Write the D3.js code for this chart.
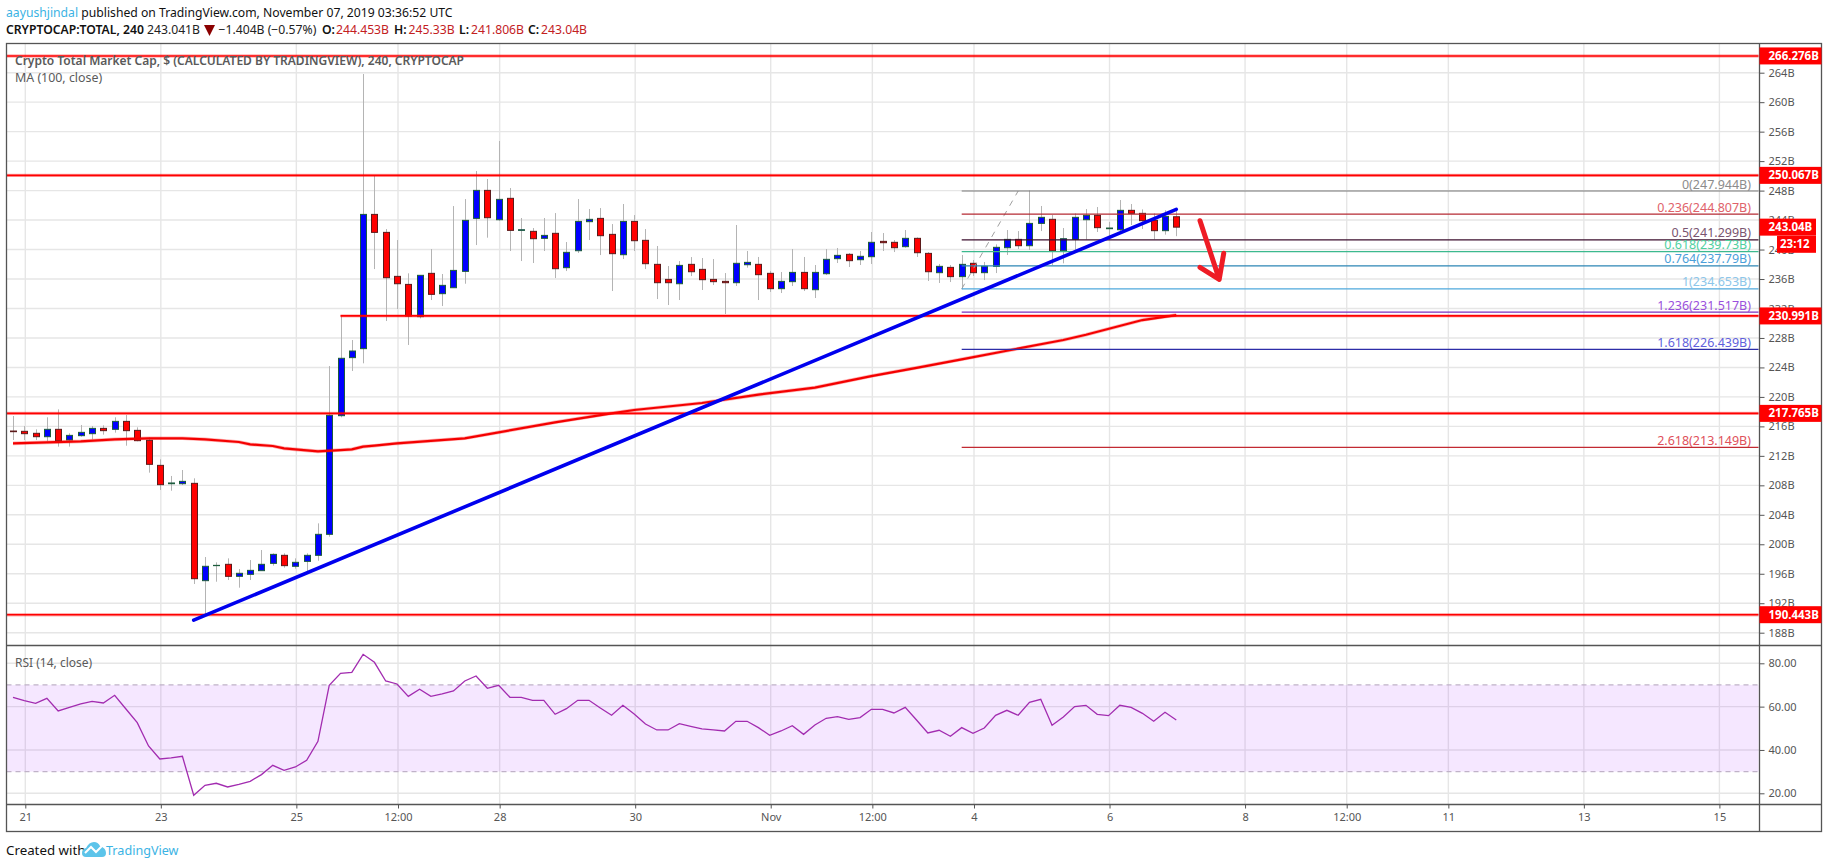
<!DOCTYPE html>
<html>
  <head>
    <meta charset="utf-8" />
    <title>Crypto Total Market Cap</title>
    <script src="https://d3js.org/d3.v7.min.js"></script>
    <style>
      html, body { margin: 0; background: #fff; }
      svg { display: block; }
      text { font-family: "Noto Sans", sans-serif; }
    </style>
  </head>
  <body>
    <svg id="chart" width="1828" height="868"></svg>
    <script>
      // 4h candles, first one is Oct 20 2019 20:00 UTC (values in billions)
      var opens = [215.37,215.33,215.06,214.60,215.60,214.15,214.74,215.01,215.73,215.60,
        216.68,215.46,214.11,210.71,208.22,208.22,208.27,195.06,197.10,197.28,
        195.65,195.92,196.42,197.41,198.50,197.01,197.68,198.50,201.35,217.45,
        225.33,226.55,244.77,242.33,236.36,235.27,230.89,236.77,234.01,234.82,
        237.04,244.23,248.03,244.05,246.95,242.60,242.47,241.52,242.20,237.54,
        239.84,243.78,244.23,242.06,239.30,243.82,241.25,237.99,235.95,235.36,
        237.99,237.31,235.95,235.68,235.50,237.94,237.99,236.77,234.69,235.64,
        236.90,234.55,236.72,238.76,239.35,238.62,239.03,241.11,240.98,240.39,
        241.52,239.48,236.86,237.58,236.32,238.13,236.86,237.72,240.25,241.38,
        240.52,243.55,244.10,239.84,241.38,244.05,244.64,242.83,242.69,245.32,
        244.91,243.96,242.56,244.45];
      var closes = [215.28,215.01,214.60,215.60,214.06,214.78,215.19,215.73,215.42,216.68,
        215.42,214.06,210.85,208.09,208.32,208.54,195.33,197.01,197.14,195.65,
        196.06,196.46,197.28,198.63,197.10,197.55,198.50,201.35,217.50,225.24,
        226.23,244.77,242.33,236.18,235.36,230.98,236.50,233.92,235.14,237.17,
        243.96,248.03,244.32,246.81,242.60,242.69,241.47,241.92,237.40,239.62,
        243.82,244.10,241.88,239.44,243.82,241.20,238.08,235.50,235.50,237.85,
        236.99,235.91,235.64,235.50,238.13,238.26,236.59,234.69,235.68,236.90,
        234.69,236.90,238.67,239.21,238.49,239.08,240.98,240.93,240.25,241.52,
        239.57,236.99,237.72,236.32,237.99,236.86,237.72,240.30,241.38,240.52,
        243.55,244.37,239.84,241.47,244.37,244.64,242.97,242.92,245.32,244.91,
        243.92,242.56,244.50,243.04];
      var highs = [217.41,216.05,215.60,217.23,218.31,215.06,216.19,216.05,216.14,217.23,
        217.54,215.87,214.51,211.53,209.27,210.08,208.95,198.27,197.55,198.09,
        196.64,197.86,199.22,198.77,198.77,198.09,198.77,202.84,224.19,230.98,
        227.72,263.82,250.11,242.78,241.29,236.77,236.50,240.07,236.68,245.90,
        246.85,250.66,249.57,254.73,248.35,244.28,242.92,244.28,244.95,241.02,
        246.85,245.50,245.63,243.46,246.18,244.68,242.78,240.48,237.76,238.44,
        238.98,238.85,238.71,236.81,243.33,239.80,238.99,237.09,236.95,240.07,
        238.99,237.90,240.07,240.21,239.53,239.80,242.38,242.24,241.29,242.65,
        241.65,239.66,238.04,237.90,239.26,238.58,238.31,240.70,242.65,242.51,
        248.03,245.91,244.69,242.92,244.91,245.50,245.77,243.74,246.72,246.18,
        245.45,244.91,245.32,245.33];
      var lows = [214.15,214.15,214.15,213.97,213.25,213.25,214.60,214.24,214.88,215.15,
        213.38,213.97,209.72,207.37,207.27,208.04,194.61,190.40,194.92,195.15,
        194.11,195.15,196.42,197.10,196.82,196.69,196.28,197.77,201.03,217.23,
        223.52,224.56,237.35,230.30,231.93,227.05,230.66,233.15,232.33,234.82,
        235.36,240.61,241.61,243.87,239.80,238.44,238.17,239.80,236.13,237.08,
        239.53,241.29,239.25,234.37,238.71,239.80,237.35,233.28,232.47,233.15,
        236.40,234.51,235.18,231.25,235.05,237.54,233.15,234.24,234.10,235.05,
        234.37,233.42,236.54,238.17,237.63,237.90,238.04,239.80,239.66,240.25,
        238.99,235.73,235.46,235.59,234.60,236.41,235.86,236.81,239.26,240.07,
        239.94,242.51,237.90,238.13,239.94,241.38,242.38,241.29,242.51,243.33,
        242.79,241.38,242.02,241.81];

      // MA(100), read at the candle numbers in maIndex
      var maIndex = [0,3,6,9,12,15,17,20,21,23,24,27,29,30,31,32,34,40,48,53,55,61,66,71,76,80,84,88,93,95,100,103];
      var maValues = [213.70,213.83,213.97,214.24,214.38,214.38,214.24,213.88,213.56,213.34,213.02,212.61,212.79,
        212.88,213.25,213.38,213.70,214.38,216.55,217.77,218.22,219.17,220.31,221.26,222.83,223.95,225.10,226.27,
        227.72,228.44,230.43,231.11];

      // RSI(14), one per candle
      var rsiValues = [64.30,62.77,61.53,63.84,58.00,59.69,61.23,62.46,61.69,65.23,
        58.92,52.61,41.85,35.85,36.31,37.08,19.08,23.70,24.62,22.93,
        24.16,25.55,28.62,32.93,30.62,32.16,35.23,44.00,69.84,75.38,
        75.84,84.14,80.45,71.84,70.45,64.76,68.00,64.76,65.84,67.22,
        71.84,74.15,68.46,69.84,64.30,64.30,62.92,62.92,56.46,59.07,
        62.92,62.92,59.38,56.00,60.61,56.61,52.00,49.23,49.23,52.15,
        50.92,49.69,49.23,48.77,53.23,53.23,50.31,46.77,48.77,51.23,
        47.23,51.54,54.61,55.38,54.15,54.92,58.77,58.77,57.07,59.69,
        53.84,47.85,49.08,46.31,50.31,47.69,50.15,56.00,58.30,56.00,
        62.00,63.38,51.38,55.23,60.00,60.61,56.46,55.84,60.61,59.69,
        56.92,53.23,57.38,53.84];

      var priceTicks = [188,192,196,200,204,208,212,216,220,224,228,232,236,240,244,248,252,256,260,264];
      var rsiTicks = [20,40,60,80];
      var rsiBand = [30,70];
      var timeTicks = ["2019-10-21","2019-10-23","2019-10-25","2019-10-26T12:00","2019-10-28","2019-10-30",
        "2019-11-01","2019-11-02T12:00","2019-11-04","2019-11-06","2019-11-08","2019-11-09T12:00",
        "2019-11-11","2019-11-13","2019-11-15"];
      var timeLabels = ["21","23","25","12:00","28","30","Nov","12:00","4","6","8","12:00","11","13","15"];

      // horizontal levels drawn by the author, the 231B one starts later
      var levels = [266.276,250.067,230.991,217.765,190.443];
      var levelLabels = ["266.276B","250.067B","230.991B","217.765B","190.443B"];
      var levelStart = [null,null,29,null,null];

      var fibValues = [247.944,244.807,241.299,239.73,237.79,234.653,231.517,226.439,213.149];
      var fibLabels = ["0(247.944B)","0.236(244.807B)","0.5(241.299B)","0.618(239.73B)","0.764(237.79B)",
        "1(234.653B)","1.236(231.517B)","1.618(226.439B)","2.618(213.149B)"];
      var fibLine = ["#787878","#b52a33","#3c0f2e","#3cb98e","#2c86b5","#4fa9dc","#7a2fc0","#2d2da8","#c22a32"];
      var fibText = ["#8c8c8c","#e0626a","#7a5570","#4fd09f","#4a9fda","#8cc6ea","#9a50dc","#5f5fdc","#e0505a"];
      var fibStart = 84;

      var trendIndex = [16,103];
      var trendValues = [189.7,245.45];
      var swingIndex = [84,89];
      var swingValues = [234.653,247.944];
      var arrowIndex = [105.1,106.8,105.1,106.8,107.2];
      var arrowValues = [243.91,235.96,237.59,235.96,239.49];

      var headerQuote = [["O:","244.453B",322,336],["H:","245.33B",394,408.6],["L:","241.806B",459,471],["C:","243.04B",528,541]];

      var left = 6.5, paneRight = 1759.5, outerRight = 1821.5;
      var mainTop = 43.5, mainBottom = 645.5, rsiBottom = 804.5, timeBottom = 831.5;
      var FOUR_H = 4 * 3600 * 1000;
      var firstCandle = Date.UTC(2019, 9, 20, 20);

      var svg = d3.select("#chart");

      var x = d3.scaleUtc()
        .domain([Date.UTC(2019, 9, 21), Date.UTC(2019, 10, 15)])
        .range([25.3, 1719.4]);
      var y = d3.scaleLinear().domain([188, 264]).range([632.7, 72.7]);
      var yRsi = d3.scaleLinear().domain([20, 80]).range([793.3, 663.3]);

      // candles sit about a pixel left of the time grid
      function cx(i) {
        return x(new Date(firstCandle + i * FOUR_H)) - 1;
      }
      function tickDate(s) {
        return new Date(s.length > 10 ? s + "Z" : s + "T00:00Z");
      }

      var candles = d3.range(opens.length).map(function (i) {
        return { i: i, o: opens[i], h: highs[i], l: lows[i], c: closes[i] };
      });

      // grid
      var grid = svg.append("g").attr("stroke", "#e6e6e6").attr("stroke-width", 1.4);
      grid.selectAll("line.h")
        .data(priceTicks)
        .enter()
        .append("line")
        .attr("x1", left)
        .attr("x2", paneRight)
        .attr("y1", function (d) { return y(d); })
        .attr("y2", function (d) { return y(d); });
      grid.selectAll("line.r")
        .data(rsiTicks)
        .enter()
        .append("line")
        .attr("x1", left)
        .attr("x2", paneRight)
        .attr("y1", function (d) { return yRsi(d); })
        .attr("y2", function (d) { return yRsi(d); });
      grid.selectAll("line.v")
        .data(timeTicks)
        .enter()
        .append("line")
        .attr("x1", function (d) { return x(tickDate(d)); })
        .attr("x2", function (d) { return x(tickDate(d)); })
        .attr("y1", mainTop)
        .attr("y2", rsiBottom);

      // candlesticks
      var candle = svg.append("g");
      candle.selectAll("line")
        .data(candles)
        .enter()
        .append("line")
        .attr("x1", function (d) { return Math.round(cx(d.i)) + 0.5; })
        .attr("x2", function (d) { return Math.round(cx(d.i)) + 0.5; })
        .attr("y1", function (d) { return y(d.h); })
        .attr("y2", function (d) { return y(d.l); })
        .attr("stroke", "#b4b4b4")
        .attr("stroke-width", 1);
      candle.selectAll("rect")
        .data(candles)
        .enter()
        .append("rect")
        .attr("x", function (d) { return Math.round(cx(d.i)) - 2.5; })
        .attr("width", 6)
        .attr("y", function (d) { return y(Math.max(d.o, d.c)); })
        .attr("height", function (d) { return Math.abs(y(d.o) - y(d.c)); })
        .attr("fill", function (d) { return d.c >= d.o ? "#0000ff" : "#ff0000"; })
        .attr("stroke", function (d) { return d.c >= d.o ? "#1c5c3c" : "#5c1a1a"; })
        .attr("stroke-width", 1);

      // moving average
      var maLine = d3.line()
        .x(function (d) { return cx(d); })
        .y(function (d, i) { return y(maValues[i]); });
      svg.append("path")
        .attr("d", maLine(maIndex))
        .attr("fill", "none")
        .attr("stroke", "#ff0000")
        .attr("stroke-opacity", 0.3)
        .attr("stroke-width", 3.6);
      svg.append("path")
        .attr("d", maLine(maIndex))
        .attr("fill", "none")
        .attr("stroke", "#f40000")
        .attr("stroke-width", 2.2);

      // red levels
      var levelG = svg.append("g");
      levels.forEach(function (v, i) {
        var start = levelStart[i] === null ? left : cx(levelStart[i]);
        levelG.append("line")
          .attr("x1", start).attr("x2", paneRight - 1)
          .attr("y1", y(v)).attr("y2", y(v))
          .attr("stroke", "#ff0000").attr("stroke-opacity", 0.3).attr("stroke-width", 3.4);
        levelG.append("line")
          .attr("x1", start).attr("x2", paneRight - 1)
          .attr("y1", y(v)).attr("y2", y(v))
          .attr("stroke", "#ff0000").attr("stroke-width", 1.6);
      });

      // fib retracement
      var fib = svg.append("g");
      fib.append("path")
        .attr("d", d3.line()
          .x(function (d) { return cx(d); })
          .y(function (d, i) { return y(swingValues[i]); })(swingIndex))
        .attr("fill", "none")
        .attr("stroke", "#a0a0a0")
        .attr("stroke-dasharray", "6,6");
      fib.selectAll("line")
        .data(fibValues)
        .enter()
        .append("line")
        .attr("x1", cx(fibStart))
        .attr("x2", paneRight - 1)
        .attr("y1", function (d) { return y(d); })
        .attr("y2", function (d) { return y(d); })
        .attr("stroke", function (d, i) { return fibLine[i]; })
        .attr("stroke-width", 1.2);
      fib.selectAll("text")
        .data(fibValues)
        .enter()
        .append("text")
        .attr("x", 1751)
        .attr("y", function (d) { return y(d) - 2.5; })
        .attr("text-anchor", "end")
        .attr("font-size", 12.5)
        .attr("fill", function (d, i) { return fibText[i]; })
        .text(function (d, i) { return fibLabels[i]; });

      // trend line
      svg.append("path")
        .attr("d", d3.line()
          .x(function (d) { return cx(d); })
          .y(function (d, i) { return y(trendValues[i]); })(trendIndex))
        .attr("fill", "none")
        .attr("stroke", "#0000ee")
        .attr("stroke-width", 3.6)
        .attr("stroke-linecap", "round");

      // hand drawn arrow
      svg.append("path")
        .attr("d", d3.line()
          .x(function (d) { return cx(d); })
          .y(function (d, i) { return y(arrowValues[i]); })(arrowIndex))
        .attr("fill", "none")
        .attr("stroke", "#ee1c25")
        .attr("stroke-width", 5)
        .attr("stroke-linecap", "round")
        .attr("stroke-linejoin", "round");

      // rsi pane
      svg.append("rect")
        .attr("x", left)
        .attr("width", paneRight - 1 - left)
        .attr("y", yRsi(rsiBand[1]))
        .attr("height", yRsi(rsiBand[0]) - yRsi(rsiBand[1]))
        .attr("fill", "#9915ff")
        .attr("fill-opacity", 0.1);
      svg.append("g").selectAll("line")
        .data(rsiBand)
        .enter()
        .append("line")
        .attr("x1", left)
        .attr("x2", paneRight - 1)
        .attr("y1", function (d) { return yRsi(d); })
        .attr("y2", function (d) { return yRsi(d); })
        .attr("stroke", "#c0b2c8")
        .attr("stroke-width", 1.2)
        .attr("stroke-dasharray", "5,4");
      svg.append("path")
        .attr("d", d3.line()
          .x(function (d, i) { return cx(i); })
          .y(function (d) { return yRsi(d); })(rsiValues))
        .attr("fill", "none")
        .attr("stroke", "#a22cb0")
        .attr("stroke-width", 1.3);

      // axes
      var axisRight = d3.axisRight(y)
        .tickValues(priceTicks)
        .tickSize(5)
        .tickPadding(4)
        .tickFormat(function (d) { return d + "B"; });
      var axisRsi = d3.axisRight(yRsi)
        .tickValues(rsiTicks)
        .tickSize(5)
        .tickPadding(4)
        .tickFormat(d3.format(".2f"));
      var axisTime = d3.axisBottom(x)
        .tickValues(timeTicks.map(tickDate))
        .tickSize(4)
        .tickPadding(5)
        .tickFormat(function (d, i) { return timeLabels[i]; });

      function styleAxis(g) {
        g.select(".domain").remove();
        g.selectAll("line").attr("stroke", "#555");
        g.selectAll("text")
          .attr("fill", "#555")
          .attr("font-size", 11)
          .attr("font-family", '"Noto Sans", sans-serif');
      }
      svg.append("g").attr("transform", "translate(" + paneRight + ",0)").call(axisRight).call(styleAxis);
      svg.append("g").attr("transform", "translate(" + paneRight + ",0)").call(axisRsi).call(styleAxis);
      svg.append("g").attr("transform", "translate(0," + rsiBottom + ")").call(axisTime).call(styleAxis);

      // frame
      var frame = svg.append("g").attr("stroke", "#555").attr("stroke-width", 1.3);
      frame.append("rect")
        .attr("x", left).attr("y", mainTop)
        .attr("width", outerRight - left).attr("height", timeBottom - mainTop)
        .attr("fill", "none");
      [mainBottom, rsiBottom].forEach(function (v) {
        frame.append("line").attr("x1", left).attr("x2", outerRight).attr("y1", v).attr("y2", v);
      });
      frame.append("line").attr("x1", paneRight).attr("x2", paneRight).attr("y1", mainTop).attr("y2", timeBottom);

      // price badges
      function badge(bx, by, w, pad, label) {
        svg.append("rect")
          .attr("x", bx).attr("y", by - 8.5)
          .attr("width", w).attr("height", 17)
          .attr("fill", "#ff0000");
        svg.append("text")
          .attr("x", bx + pad).attr("y", by + 4)
          .attr("font-size", 11.5)
          .attr("font-weight", 700)
          .attr("fill", "#fff")
          .text(label);
      }
      levels.forEach(function (v, i) {
        badge(paneRight, y(v), outerRight - paneRight, 9, levelLabels[i]);
      });
      badge(paneRight, y(closes[closes.length - 1]), 56.5, 9, "243.04B");
      badge(1777, 244.3, 39, 3, "23:12");

      // header
      var h1 = svg.append("text").attr("x", 6).attr("y", 17).attr("font-size", 12.2);
      h1.append("tspan").attr("fill", "#3bb3e4").text("aayushjindal");
      h1.append("tspan").attr("fill", "#111").text(" published on TradingView.com, November 07, 2019 03:36:52 UTC");

      svg.append("text").attr("x", 6).attr("y", 34).attr("font-size", 12.2).attr("font-weight", 600)
        .attr("fill", "#111").text("CRYPTOCAP:TOTAL, 240");
      svg.append("text").attr("x", 147).attr("y", 34).attr("font-size", 12.2).attr("fill", "#222").text("243.041B");
      svg.append("path").attr("d", "M204,25h11l-5.5,11z").attr("fill", "#8b0000");
      svg.append("text").attr("x", 218.5).attr("y", 34).attr("font-size", 12.2).attr("fill", "#222").text("−1.404B (−0.57%)");
      headerQuote.forEach(function (q) {
        svg.append("text").attr("x", q[2]).attr("y", 34).attr("font-size", 12.2).attr("font-weight", 600)
          .attr("fill", "#111").text(q[0]);
        svg.append("text").attr("x", q[3]).attr("y", 34).attr("font-size", 12.2).attr("fill", "#c3211f").text(q[1]);
      });

      // legends
      svg.append("text").attr("x", 15).attr("y", 65).attr("font-size", 12).attr("font-weight", 600)
        .attr("fill", "#5a5a5a").text("Crypto Total Market Cap, $ (CALCULATED BY TRADINGVIEW), 240, CRYPTOCAP");
      svg.append("text").attr("x", 15).attr("y", 82).attr("font-size", 12.4)
        .attr("fill", "#5a5a5a").text("MA (100, close)");
      svg.append("text").attr("x", 15).attr("y", 667).attr("font-size", 12)
        .attr("fill", "#5a5a5a").text("RSI (14, close)");

      // footer
      svg.append("text").attr("x", 6).attr("y", 855).attr("font-size", 13.3).attr("fill", "#111").text("Created with");
      svg.append("path")
        .attr("d", "M82,853 Q82,849 86,848 Q89,842 94,842 Q98,842 100,846 Q106,848 106,853 Q106,857 102,857 L86,857 Q82,857 82,853z")
        .attr("fill", "#5cc4ea");
      svg.append("path")
        .attr("d", "M85,853 L91,847 L96,852 L102,846")
        .attr("fill", "none")
        .attr("stroke", "#fff")
        .attr("stroke-width", 2);
      svg.append("text").attr("x", 106).attr("y", 855).attr("font-size", 12.6).attr("fill", "#3bb3e4").text("TradingView");
    </script>
  </body>
</html>
